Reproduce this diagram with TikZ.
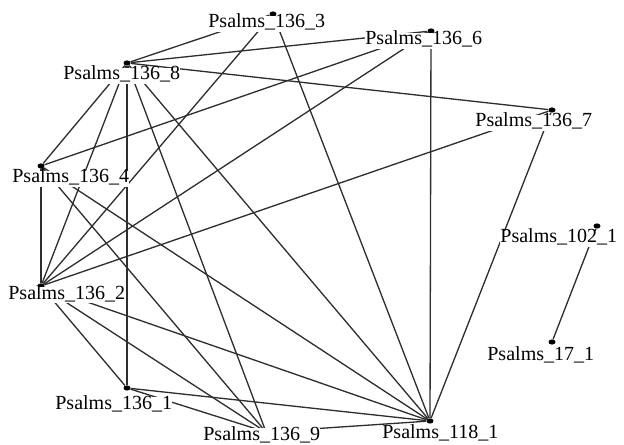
\documentclass[tikz,border=0pt]{standalone}
\usepackage{fontspec}
\setmainfont{Liberation Serif}
\usetikzlibrary{shapes.geometric}
\begin{document}
\begin{tikzpicture}[x=0.02cm,y=-0.02cm,
     dot/.style={ellipse,fill=black,inner sep=0pt,minimum width=1.4mm,minimum height=1.05mm},
     lab/.style={anchor=base west,fill=white,inner sep=0pt,text height=0.66em,text depth=0.2em,
                 font=\fontsize{11.4}{13}\selectfont},
     edge/.style={draw=black!82,line width=0.75pt}
     ]
\useasboundingbox (0,0) rectangle (624,445);

%Vertices
\node[dot] (p3) at (273,14) {};
\node[dot] (p6) at (431,31) {};
\node[dot] (p8) at (127,63) {};
\node[dot] (p7) at (552,110) {};
\node[dot] (p4) at (41,166) {};
\node[dot] (p2) at (41,286) {};
\node[dot] (p1) at (127,388) {};
\node[dot] (p9) at (266,432) {};
\node[dot] (p118) at (430,421) {};
\node[dot] (p102) at (597,226) {};
\node[dot] (p17) at (552,342) {};

%Edges
\foreach \a/\b in {p8/p3,p8/p6,p8/p7,p8/p4,p8/p2,p8/p1,p8/p9,p8/p118,
                   p3/p2,p3/p118,p6/p4,p6/p2,p6/p118,p7/p2,p7/p118,
                   p4/p2,p4/p9,p4/p118,p2/p1,p2/p9,p2/p118,
                   p1/p9,p1/p118,p9/p118,p102/p17}
   \draw[edge] (\a) -- (\b);

%Labels
\node[lab] (l3) at (208,28) {Psalms\_136\_3};
\node[lab] (l6) at (365,45) {Psalms\_136\_6};
\node[lab] (l8) at (63,80) {Psalms\_136\_8};
\node[lab] (l7) at (475,127) {Psalms\_136\_7};
\node[lab] (l4) at (12,183) {Psalms\_136\_4};
\node[lab] (l2) at (8,299) {Psalms\_136\_2};
\node[lab] (l1) at (55,409) {Psalms\_136\_1};
\node[lab] (l9) at (203,440) {Psalms\_136\_9};
\node[lab] (l118) at (382,438) {Psalms\_118\_1};
\node[lab] (l102) at (500,243) {Psalms\_102\_1};
\node[lab] (l17) at (487,360) {Psalms\_17\_1};
\end{tikzpicture}
\end{document}
